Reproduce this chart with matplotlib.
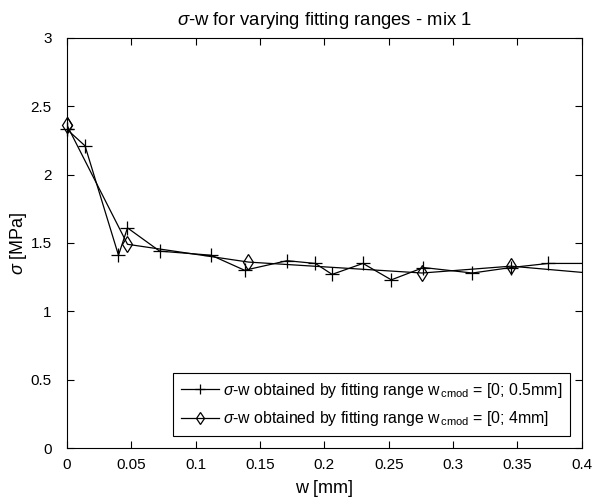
import matplotlib
matplotlib.use("Agg")
import matplotlib.pyplot as plt

plt.rcParams['font.family'] = ['Liberation Sans', 'DejaVu Sans']
plt.rcParams['mathtext.fontset'] = 'custom'
plt.rcParams['mathtext.rm'] = 'Liberation Sans'
plt.rcParams['mathtext.it'] = 'Liberation Sans:italic'

w_plus = [0.0, 0.014, 0.040, 0.047, 0.072, 0.112, 0.138, 0.171, 0.193, 0.206, 0.230, 0.252, 0.277, 0.315, 0.345, 0.374, 0.41]
s_plus = [2.33, 2.21, 1.41, 1.61, 1.44, 1.41, 1.30, 1.37, 1.35, 1.27, 1.35, 1.23, 1.32, 1.28, 1.32, 1.35, 1.35]

w_diam = [0.0, 0.047, 0.141, 0.276, 0.345, 0.43]
s_diam = [2.36, 1.49, 1.36, 1.28, 1.33, 1.26]

label_plus = r'$\sigma$-w obtained by fitting range w$_{\,\mathrm{cmod}}$ = [0; 0.5mm]'
label_diam = r'$\sigma$-w obtained by fitting range w$_{\,\mathrm{cmod}}$ = [0; 4mm]'

fig = plt.figure(figsize=(5.93, 5.04), dpi=100)
ax = fig.add_axes([0.113, 0.111, 0.868, 0.814])

ax.plot(w_plus, s_plus, color='black', lw=0.9, marker='+', ms=9.5, mew=0.9, label=label_plus)
ax.plot(w_diam, s_diam, color='black', lw=0.9, marker='d', ms=8, mew=0.9, mfc='none', label=label_diam)
# first markers sit on the axis edge and are drawn whole
ax.plot(w_plus[:1], s_plus[:1], ls='none', color='black', marker='+', ms=9.5, mew=0.9, clip_on=False)
ax.plot(w_diam[:1], s_diam[:1], ls='none', color='black', marker='d', ms=8, mew=0.9, mfc='none', clip_on=False)

ax.set_xlim(0, 0.4)
ax.set_ylim(0, 3)
ax.set_xticks([0, 0.05, 0.1, 0.15, 0.2, 0.25, 0.3, 0.35, 0.4])
ax.set_xticklabels(['0', '0.05', '0.1', '0.15', '0.2', '0.25', '0.3', '0.35', '0.4'])
ax.set_yticks([0, 0.5, 1, 1.5, 2, 2.5, 3])
ax.set_yticklabels(['0', '0.5', '1', '1.5', '2', '2.5', '3'])
ax.tick_params(direction='in', top=True, right=True, labelsize=11, length=5, width=0.8)
ax.tick_params(axis='x', pad=7)
ax.tick_params(axis='y', pad=11)
for s in ax.spines.values():
    s.set_linewidth(0.8)

ax.set_title(r'$\sigma$-w for varying fitting ranges - mix 1', fontsize=13.3, pad=9)
ax.set_xlabel('w [mm]', fontsize=13, labelpad=6)
ax.set_ylabel(r'$\sigma$ [MPa]', fontsize=13, labelpad=1)

leg = ax.legend(loc='lower right', fontsize=11.4, fancybox=False, framealpha=1,
                edgecolor='black', handlelength=2.4, handletextpad=0.25,
                borderaxespad=0.75, markerscale=0.75, labelspacing=0.6,
                borderpad=0.5)
leg.get_frame().set_linewidth(0.8)

fig.savefig('out.png', dpi=100)
